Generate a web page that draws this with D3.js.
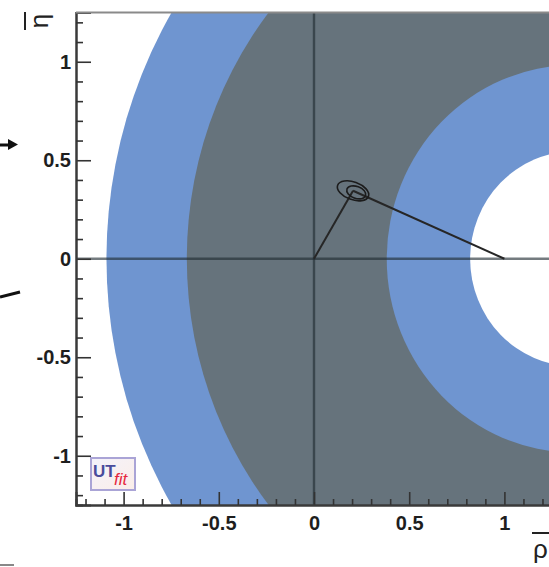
<!DOCTYPE html>
<html>
<head>
<meta charset="utf-8">
<script src="https://cdn.jsdelivr.net/npm/d3@7"></script>
<style>
  html, body { margin: 0; padding: 0; background: #fff; }
  svg { display: block; }
  text { font-family: "Liberation Sans", Arial, sans-serif; }
</style>
</head>
<body>
<svg id="chart" width="549" height="567"></svg>
<script>
// ---- data ----
const xDomain = [-1.25, 1.25];
const yDomain = [-1.25, 1.25];
const majorTicks = [-1, -0.5, 0, 0.5, 1];
const tickLabels = ["-1", "-0.5", "0", "0.5", "1"];
const minorTicks = [-1.2, -1.1, -0.9, -0.8, -0.7, -0.6, -0.4, -0.3, -0.2, -0.1,
                    0.1, 0.2, 0.3, 0.4, 0.6, 0.7, 0.8, 0.9, 1.1, 1.2];
// constraint rings centred at (ringCenterRho, 0): radii (outer to inner) and fills
const ringCenterRho = 1.365;
const ringRadii = [2.455, 2.033, 0.983, 0.545];
const ringFills = ["#6f95d0", "#66737c", "#6f95d0", "#ffffff"];
// triangle apex (rho, eta) and base vertices
const apex = [0.205, 0.345];
const baseVertices = [[0, 0], [1, 0]];
// probability contours around the apex: centre, semi-axes (data units), tilt (deg)
const contourRho = [0.205, 0.222];
const contourEta = [0.345, 0.337];
const contourA = [0.086, 0.052];
const contourB = [0.045, 0.03];
const contourTilt = [20, 20];

// ---- layout ----
const svg = d3.select("#chart");
const x = d3.scaleLinear().domain(xDomain).range([76, 552]);
const y = d3.scaleLinear().domain(yDomain).range([505, 12.5]);

const defs = svg.append("defs");
defs.append("clipPath").attr("id", "plotclip")
  .append("rect")
  .attr("x", x(xDomain[0])).attr("y", y(yDomain[1]))
  .attr("width", x(xDomain[1]) - x(xDomain[0]))
  .attr("height", y(yDomain[0]) - y(yDomain[1]));

const plot = svg.append("g").attr("clip-path", "url(#plotclip)");

// rings
plot.selectAll("ellipse.ring")
  .data(ringRadii.map((r, i) => ({ r, fill: ringFills[i] })))
  .join("ellipse")
  .attr("class", "ring")
  .attr("cx", x(ringCenterRho))
  .attr("cy", y(0))
  .attr("rx", d => x(d.r) - x(0))
  .attr("ry", d => y(0) - y(d.r))
  .attr("fill", d => d.fill);

// zero lines
plot.append("line")
  .attr("x1", x(xDomain[0])).attr("x2", x(xDomain[1]))
  .attr("y1", y(0)).attr("y2", y(0))
  .attr("stroke", "#1f2a30").attr("stroke-opacity", 0.62).attr("stroke-width", 2.4);
plot.append("line")
  .attr("x1", x(0)).attr("x2", x(0))
  .attr("y1", y(yDomain[0])).attr("y2", y(yDomain[1]))
  .attr("stroke", "#1f2a30").attr("stroke-opacity", 0.62).attr("stroke-width", 2.4);

// triangle sides
plot.selectAll("line.side")
  .data(baseVertices)
  .join("line")
  .attr("class", "side")
  .attr("x1", d => x(d[0])).attr("y1", d => y(d[1]))
  .attr("x2", x(apex[0])).attr("y2", y(apex[1]))
  .attr("stroke", "#262626").attr("stroke-width", 2);

// contours
plot.selectAll("ellipse.contour")
  .data(contourRho.map((r, i) => ({ r, e: contourEta[i], a: contourA[i], b: contourB[i], t: contourTilt[i] })))
  .join("ellipse")
  .attr("class", "contour")
  .attr("transform", d => `translate(${x(d.r)},${y(d.e)}) rotate(${d.t})`)
  .attr("rx", d => x(d.a) - x(0))
  .attr("ry", d => y(0) - y(d.b))
  .attr("fill", "none")
  .attr("stroke", "#1c1c1c").attr("stroke-width", 1.6);

// ---- axes ----
const fmt = d => tickLabels[majorTicks.indexOf(d)];

const leftMajor = svg.append("g").attr("transform", `translate(${x(xDomain[0])},0)`)
  .call(d3.axisLeft(y).tickValues(majorTicks).tickFormat(fmt).tickSize(-15).tickPadding(5));
const leftMinor = svg.append("g").attr("transform", `translate(${x(xDomain[0])},0)`)
  .call(d3.axisLeft(y).tickValues(minorTicks).tickFormat("").tickSize(-7));
const botMajor = svg.append("g").attr("transform", `translate(0,${y(yDomain[0])})`)
  .call(d3.axisBottom(x).tickValues(majorTicks).tickFormat(fmt).tickSize(-13).tickPadding(11));
const botMinor = svg.append("g").attr("transform", `translate(0,${y(yDomain[0])})`)
  .call(d3.axisBottom(x).tickValues(minorTicks).tickFormat("").tickSize(-6));

[leftMajor, leftMinor, botMajor, botMinor].forEach(g => {
  g.select(".domain").attr("stroke", "#3a3a3a").attr("stroke-width", 2);
  g.selectAll(".tick line").attr("stroke", "#333").attr("stroke-width", 1.6);
  g.selectAll(".tick text")
    .attr("fill", "#1e1e1e")
    .style("font-family", "'Liberation Sans', Arial, sans-serif")
    .style("font-size", "20px")
    .style("font-weight", "bold");
});

// top frame
svg.append("line")
  .attr("x1", x(xDomain[0])).attr("x2", 549)
  .attr("y1", y(yDomain[1])).attr("y2", y(yDomain[1]))
  .attr("stroke", "#8a8a8a").attr("stroke-width", 2);

// axis titles
svg.append("text")
  .attr("transform", "translate(48,21) rotate(-90)")
  .attr("text-anchor", "middle")
  .style("font-size", "26px")
  .attr("fill", "#222")
  .text("η");
svg.append("line")
  .attr("x1", 25).attr("x2", 25).attr("y1", 12).attr("y2", 30)
  .attr("stroke", "#222").attr("stroke-width", 2);

svg.append("text")
  .attr("x", 533).attr("y", 558)
  .style("font-size", "26px")
  .attr("fill", "#222")
  .text("ρ");
svg.append("line")
  .attr("x1", 532).attr("x2", 549).attr("y1", 533).attr("y2", 533)
  .attr("stroke", "#222").attr("stroke-width", 2);

// UTfit logo
const logo = svg.append("g");
const grad = defs.append("linearGradient").attr("id", "logograd")
  .attr("x1", 0).attr("y1", 0).attr("x2", 1).attr("y2", 1);
grad.append("stop").attr("offset", "0%").attr("stop-color", "#f4f2fb");
grad.append("stop").attr("offset", "100%").attr("stop-color", "#fbeee8");
logo.append("rect")
  .attr("x", 91).attr("y", 458).attr("width", 44).attr("height", 32)
  .attr("fill", "url(#logograd)")
  .attr("stroke", "#aaa4d6").attr("stroke-width", 2);
logo.append("text")
  .attr("x", 93).attr("y", 477)
  .style("font-size", "17px")
  .style("font-weight", "bold")
  .attr("fill", "#4a4c9c")
  .text("UT");
logo.append("text")
  .attr("x", 114).attr("y", 485)
  .style("font-size", "17px")
  .style("font-style", "italic")
  .attr("fill", "#e6283e")
  .text("fit");

// stray marks from the neighbouring figure at the left edge
svg.append("line")
  .attr("x1", 0).attr("x2", 11).attr("y1", 145).attr("y2", 145)
  .attr("stroke", "#111").attr("stroke-width", 3);
svg.append("path")
  .attr("d", "M8,139 L18,144.5 L8,150 Z")
  .attr("fill", "#111");
svg.append("line")
  .attr("x1", 0).attr("x2", 20).attr("y1", 297).attr("y2", 292)
  .attr("stroke", "#111").attr("stroke-width", 3);
svg.append("line")
  .attr("x1", 0).attr("x2", 14).attr("y1", 565).attr("y2", 565)
  .attr("stroke", "#888").attr("stroke-width", 2);
</script>
</body>
</html>
